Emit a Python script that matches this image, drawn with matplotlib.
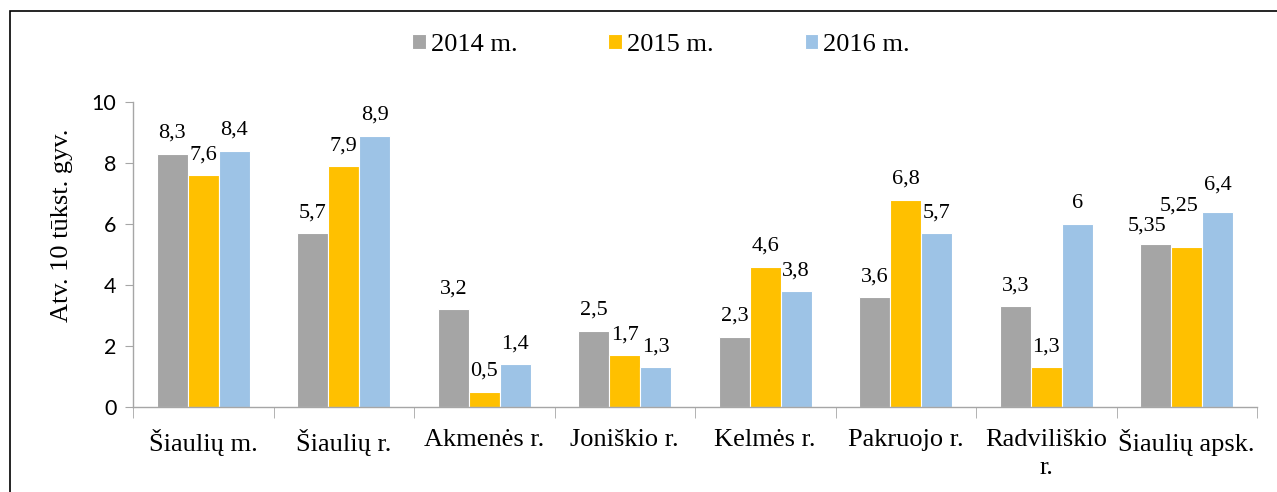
import matplotlib

matplotlib.use("Agg")
import matplotlib.pyplot as plt
import numpy as np
from matplotlib.patches import Rectangle

categories = [
    "Šiaulių m.",
    "Šiaulių r.",
    "Akmenės r.",
    "Joniškio r.",
    "Kelmės r.",
    "Pakruojo r.",
    "Radviliškio\nr.",
    "Šiaulių apsk.",
]
series_names = ["2014 m.", "2015 m.", "2016 m."]
values_2014 = [8.3, 5.7, 3.2, 2.5, 2.3, 3.6, 3.3, 5.35]
values_2015 = [7.6, 7.9, 0.5, 1.7, 4.6, 6.8, 1.3, 5.25]
values_2016 = [8.4, 8.9, 1.4, 1.3, 3.8, 5.7, 6.0, 6.4]
y_ticks = [0, 2, 4, 6, 8, 10]
y_label = "Atv. 10 tūkst. gyv."

colors = ["#A5A5A5", "#FFC000", "#9DC3E6"]
axis_color = "#A6A6A6"


def fmt(v):
    s = f"{v:.2f}".rstrip("0").rstrip(".")
    return s.replace(".", ",")


def main():
    plt.rcParams["font.family"] = ["Liberation Serif", "DejaVu Serif"]
    fig = plt.figure(figsize=(12.77, 4.92), dpi=100)
    ax = fig.add_axes([133 / 1277, 1 - 407 / 492, (1257 - 133) / 1277, 305 / 492])

    x = np.arange(len(categories))
    width = 0.22
    all_series = [values_2014, values_2015, values_2016]
    # label offsets (px), moved by hand in the last group like the source chart
    nudges = {(0, 7): (-9, 13), (1, 7): (-8, 36), (2, 7): (0, 22)}
    handles = []
    for i, (name, vals, color) in enumerate(zip(series_names, all_series, colors)):
        pos = x + (i - 1) * width
        bars = ax.bar(pos, vals, width, color=color, edgecolor="white", linewidth=0.8, label=name)
        handles.append(bars)
        for j, (p, v) in enumerate(zip(pos, vals)):
            ax.annotate(
                fmt(v),
                xy=(p, v),
                xytext=nudges.get((i, j), (0, 16)),
                textcoords="offset pixels",
                ha="center",
                va="baseline",
                fontsize=16,
            )

    ax.set_xlim(-0.5, len(categories) - 0.5)
    ax.set_ylim(0, 10)
    ax.set_yticks(y_ticks)
    ax.set_yticklabels([str(t) for t in y_ticks], family="Lato", fontsize=15.5)
    ax.set_xticks(x)
    ax.set_xticklabels(categories, fontsize=19, linespacing=1.35)
    ax.set_xticks(np.arange(-0.5, len(categories)), minor=True)
    ax.tick_params(axis="x", which="major", length=0, pad=16)
    ax.tick_params(axis="x", which="minor", length=8, color=axis_color, direction="out")
    ax.tick_params(axis="y", length=6, color=axis_color, direction="out", pad=6)
    for side in ["top", "right"]:
        ax.spines[side].set_visible(False)
    for side in ["left", "bottom"]:
        ax.spines[side].set_color(axis_color)
        ax.spines[side].set_linewidth(1.0)
    ax.set_ylabel(y_label, fontsize=19)
    ax.yaxis.set_label_coords(-0.053, 0.597)

    fig.legend(
        handles=handles,
        labels=series_names,
        loc="center",
        bbox_to_anchor=(661 / 1277, 1 - 45 / 492),
        ncol=3,
        frameon=False,
        fontsize=19,
        handlelength=0.5,
        handleheight=0.5,
        handletextpad=0.2,
        columnspacing=3.45,
    )

    fig.patches.append(
        Rectangle(
            (10 / 1277, -0.1),
            1.2,
            (492 - 11) / 492 + 0.1,
            transform=fig.transFigure,
            fill=False,
            edgecolor="black",
            linewidth=1.2,
        )
    )

    fig.savefig("out.png", dpi=100)
    plt.close(fig)


if __name__ == "__main__":
    main()
